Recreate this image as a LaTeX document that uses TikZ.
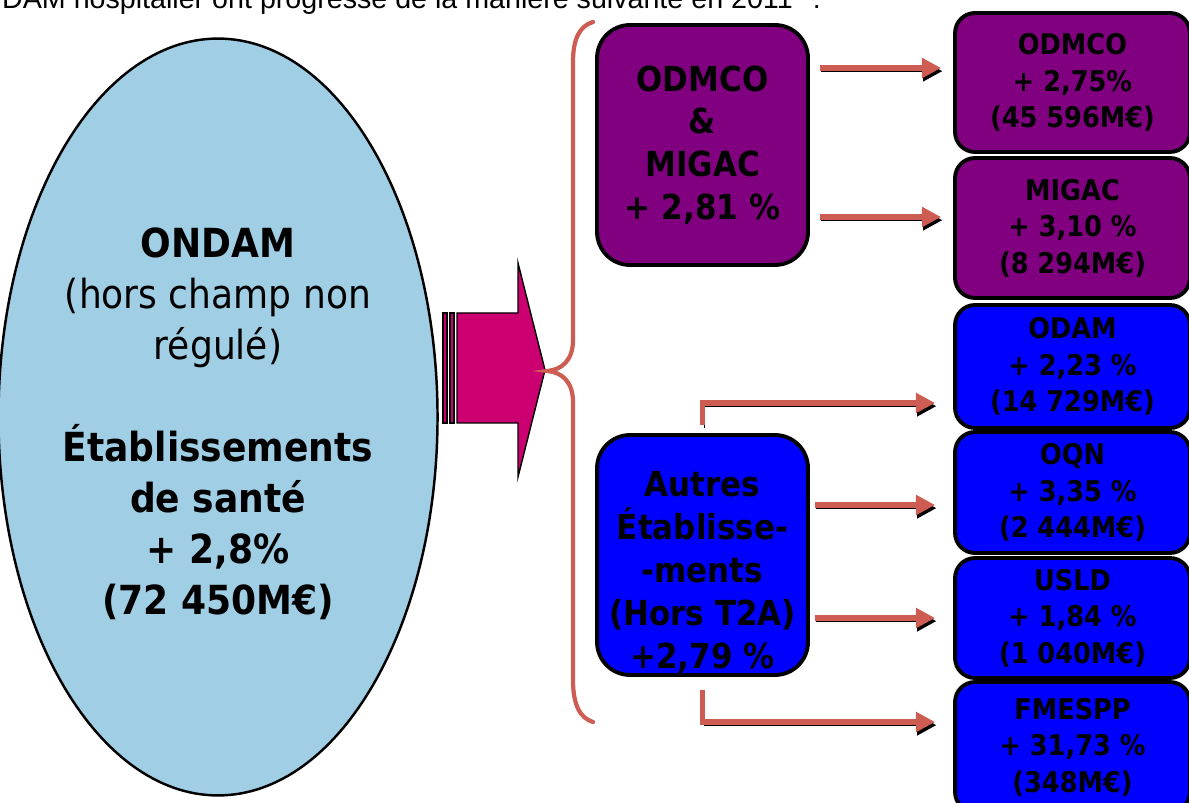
\documentclass[tikz,border=0pt]{standalone}
\usepackage{fontspec}
\setmainfont{DejaVu Sans}[FakeStretch=0.9]
\newfontfamily\headfont{Liberation Sans}
\usetikzlibrary{arrows.meta,shapes.geometric}
\definecolor{ovalblue}{RGB}{160,206,228}
\definecolor{bigarrow}{RGB}{204,0,112}
\definecolor{brick}{RGB}{205,92,82}
\definecolor{odpurple}{RGB}{128,0,128}
\definecolor{odblue}{RGB}{0,0,255}
\tikzset{
  midbox/.style={rectangle,draw,line width=2.2pt,rounded corners=0.66cm,minimum width=4.22cm,minimum height=4.8cm,align=center,inner sep=0pt,font=\bfseries\fontsize{19.6}{24.4}\selectfont},
  sidebox/.style={rectangle,draw,line width=2.2pt,rounded corners=0.4cm,minimum width=4.7cm,align=center,inner sep=0pt,font=\bfseries\fontsize{16.2}{20.7}\selectfont},
  flow/.style={draw=brick,line width=3.3pt,-{Triangle[length=11pt,width=11pt]},preaction={draw=black,transform canvas={shift={(0.8pt,-1.8pt)}}}}
}

\begin{document}
\begin{tikzpicture}[x=0.02cm,y=-0.02cm]
  \useasboundingbox (0,0) rectangle (1189,803);
  \node[anchor=base west,font=\headfont\fontsize{16.3}{19}\selectfont] (head) at (-4,9) {DAM hospitalier ont progressé de la manière suivante en 2011\textsuperscript{1} :};
  % big oval on the left
  \node[ellipse,draw,line width=1.4pt,fill=ovalblue,minimum width=8.34cm,minimum height=15.14cm,inner sep=0pt,align=center,font=\fontsize{22.8}{29}\selectfont] (ondam) at (218,417)
    {\rule{0pt}{0.87cm}\textbf{ONDAM}\\(hors champ non\\régulé)\\[29pt]\textbf{Établissements}\\\textbf{de santé}\\\textbf{+ 2,8\%}\\\textbf{(72 450M€)}};
  % striped arrow
  \draw[fill=bigarrow,line width=0.8pt] (443,313) rectangle (447,423);
  \draw[fill=bigarrow,line width=0.8pt] (450,313) rectangle (454,423);
  \draw[fill=bigarrow,line width=0.8pt] (457,313) -- (518,313) -- (518,263) -- (545,370) -- (518,477) -- (518,423) -- (457,423) -- cycle;
  % brace
  \draw[brick,line width=2.4pt,line cap=round] (593,22) .. controls (579,26) and (573,40) .. (573,62) -- (573,340)
    .. controls (573,360) and (562,370) .. (547,371) .. controls (562,372) and (573,382) .. (573,402) -- (573,680)
    .. controls (573,705) and (580,718) .. (593,722);
  % middle boxes
  \node[midbox,fill=odpurple] (odmig) at (702.5,145) {ODMCO\\\&\\MIGAC\\+ 2,81 \%};
  \node[midbox,fill=odblue] (autres) at (702.5,555) {\rule{0pt}{1.2cm}Autres\\Établisse-\\-ments\\(Hors T2A)\\+2,79 \%};
  % right boxes
  \node[sidebox,fill=odpurple,minimum height=2.78cm] (odmco) at (1072.5,82.5) {ODMCO\\+ 2,75\%\\(45 596M€)};
  \node[sidebox,fill=odpurple,minimum height=2.8cm] (migac) at (1072.5,228) {MIGAC\\+ 3,10 \%\\(8 294M€)};
  \node[sidebox,fill=odblue,minimum height=2.46cm] (odam) at (1072.5,366.5) {ODAM\\+ 2,23 \%\\(14 729M€)};
  \node[sidebox,fill=odblue,minimum height=2.42cm] (oqn) at (1072.5,492.5) {OQN\\+ 3,35 \%\\(2 444M€)};
  \node[sidebox,fill=odblue,minimum height=2.4cm] (usld) at (1072.5,618) {USLD\\+ 1,84 \%\\(1 040M€)};
  \node[sidebox,fill=odblue,minimum height=2.6cm] (fmespp) at (1072.5,747) {FMESPP\\+ 31,73 \%\\(348M€)};
  % connectors
  \draw[flow,shorten <=0.2cm,shorten >=0.24cm] ([yshift=0.29cm]odmig.east |- odmco.west) -- ([yshift=0.29cm]odmco.west);
  \draw[flow,shorten <=0.2cm,shorten >=0.24cm] ([yshift=0.22cm]odmig.east |- migac.west) -- ([yshift=0.22cm]migac.west);
  \draw[flow,shorten >=0.36cm] ([yshift=0.16cm]autres.north) |- ([yshift=-0.73cm]odam.west);
  \draw[flow,shorten <=0.1cm,shorten >=0.36cm] ([yshift=-0.25cm]autres.east |- oqn.west) -- ([yshift=-0.25cm]oqn.west);
  \draw[flow,shorten <=0.1cm,shorten >=0.36cm] (autres.east |- usld.west) -- (usld.west);
  \draw[flow,shorten >=0.36cm] ([yshift=-0.26cm]autres.south) |- ([yshift=0.5cm]fmespp.west);
\end{tikzpicture}
\end{document}
